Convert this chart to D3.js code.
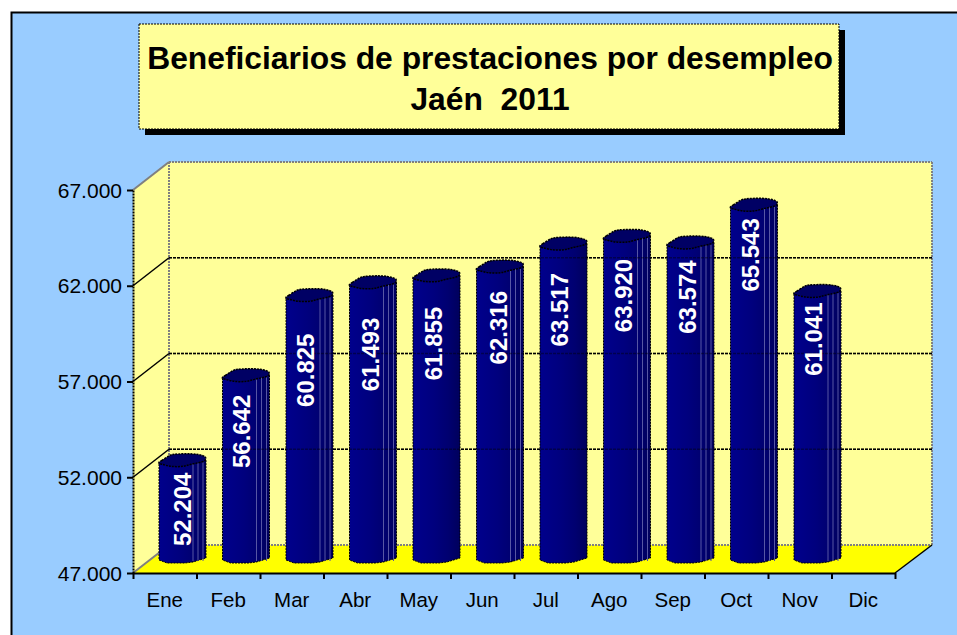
<!DOCTYPE html>
<html lang="es">
<head>
<meta charset="utf-8">
<title>Beneficiarios de prestaciones por desempleo</title>
<script src="https://cdn.jsdelivr.net/npm/d3@7"></script>
<style>
  html, body { margin: 0; padding: 0; background: #fff; overflow: hidden; }
  svg { display: block; }
  text { font-family: "Liberation Sans", Arial, sans-serif; fill: #000; }
</style>
</head>
<body>
<div id="chart"></div>
<script>
// data
const months = ['Ene', 'Feb', 'Mar', 'Abr', 'May', 'Jun', 'Jul', 'Ago', 'Sep', 'Oct', 'Nov', 'Dic'];
const beneficiaries = [52204, 56642, 60825, 61493, 61855, 62316, 63517, 63920, 63574, 65543, 61041, null];
const yTicks = [47000, 52000, 57000, 62000, 67000];
const titleLines = ['Beneficiarios de prestaciones por desempleo', 'Jaén  2011'];

// layout
const width = 957, height = 635;
const plot = { left: 133, right: 895, top: 190, bottom: 573 };
const depthX = 36, depthY = 28;   // offset of the back wall
const DOTS = '2 1';

// value labels were dragged by hand in the original, so each one has its own nudge
const labelDrop = [36, 43, 62, 59, 55, 48, 53, 46.5, 41.5, 37, 35];
const labelInset = [23.5, 19.5, 20, 21.5, 20.5, 22.5, 20, 20.5, 20.5, 20, 20];
const plainBars = ['May', 'Jul'];   // these two show no facet lines

const es = d3.formatLocale({ decimal: ',', thousands: '.', grouping: [3], currency: ['', ''] });
const fmt = es.format(',d');

const svg = d3.select('#chart').append('svg')
  .attr('width', width)
  .attr('height', height);

const x = d3.scaleBand().domain(months).range([plot.left, plot.right]);
const xEdges = d3.scaleLinear().domain([0, months.length]).range([plot.left, plot.right]);
const y = d3.scaleLinear().domain([47000, 67000]).range([plot.bottom, plot.top]);

const linePath = d3.line();

// shading across the cylinder
const grad = svg.append('defs').append('linearGradient')
  .attr('id', 'barFill')
  .attr('x1', 0).attr('x2', 1).attr('y1', 0).attr('y2', 0);
[[0, '#00008c'], [0.45, '#00007e'], [0.75, '#000070'], [1, '#00005c']].forEach(s => {
  grad.append('stop').attr('offset', s[0]).attr('stop-color', s[1]);
});

// frame, runs off the right and bottom of the window
svg.append('rect')
  .attr('x', 11.5).attr('y', 12.5)
  .attr('width', width).attr('height', height)
  .attr('fill', '#99ccff')
  .attr('stroke', '#000').attr('stroke-width', 2);

// title box
const box = { x: 139, y: 24, w: 700, h: 105, shadow: 6 };
svg.append('rect')
  .attr('x', box.x + box.shadow).attr('y', box.y + box.shadow)
  .attr('width', box.w).attr('height', box.h)
  .attr('fill', '#000');
svg.append('rect')
  .attr('x', box.x).attr('y', box.y)
  .attr('width', box.w).attr('height', box.h)
  .attr('fill', '#ffff99')
  .attr('stroke', '#000').attr('stroke-dasharray', DOTS);
svg.selectAll('text.title')
  .data(titleLines)
  .enter()
  .append('text')
  .attr('class', 'title')
  .attr('x', box.x + box.w / 2 + 1)
  .attr('y', (d, i) => 69 + i * 41)
  .attr('text-anchor', 'middle')
  .attr('font-size', 31.8)
  .attr('font-weight', 'bold')
  .style('white-space', 'pre')
  .text(d => d);

// walls and floor
const y0 = y(yTicks[0]), yTop = y(yTicks[yTicks.length - 1]);
svg.append('path')
  .attr('d', linePath([[plot.left, yTop], [plot.left + depthX, yTop - depthY], [plot.left + depthX, y0 - depthY], [plot.left, y0]]) + 'Z')
  .attr('fill', '#ffff99');
svg.append('rect')
  .attr('x', plot.left + depthX).attr('y', yTop - depthY)
  .attr('width', plot.right - plot.left + 1).attr('height', y0 - yTop)
  .attr('fill', '#ffff99');
svg.append('path')
  .attr('d', linePath([[plot.left, y0], [plot.left + depthX, y0 - depthY], [plot.right + depthX + 1, y0 - depthY], [plot.right, y0]]) + 'Z')
  .attr('fill', '#ffff00');

// grey back edges
const greyEdges = [
  [[plot.left, yTop], [plot.left + depthX, yTop - depthY]],
  [[plot.left + depthX, yTop - depthY], [plot.right + depthX + 1, yTop - depthY]],
  [[plot.left + depthX, yTop - depthY], [plot.left + depthX, y0 - depthY]],
  [[plot.right + depthX + 1, yTop - depthY], [plot.right + depthX + 1, y0 - depthY]],
  [[plot.left + depthX, y0 - depthY], [plot.right + depthX + 1, y0 - depthY]],
  [[plot.left, y0], [plot.left + depthX, y0 - depthY]]
];
svg.selectAll('path.edge')
  .data(greyEdges)
  .enter()
  .append('path')
  .attr('class', 'edge')
  .attr('d', linePath)
  .attr('fill', 'none')
  .attr('stroke', '#808080')
  .attr('stroke-width', 2)
  .attr('stroke-dasharray', (d, i) => (i === 0 || i === 5) ? null : DOTS);

// gridlines, solid across the side wall and dashed on the back wall
const inner = yTicks.slice(1, -1);
svg.selectAll('line.grid-side')
  .data(inner)
  .enter()
  .append('line')
  .attr('class', 'grid-side')
  .attr('x1', plot.left).attr('y1', d => y(d))
  .attr('x2', plot.left + depthX).attr('y2', d => y(d) - depthY)
  .attr('stroke', '#000').attr('stroke-width', 1.5);

function drawBackGrid(cls, opacity) {
  svg.selectAll('line.' + cls)
    .data(inner)
    .enter()
    .append('line')
    .attr('class', cls)
    .attr('x1', plot.left + depthX).attr('y1', d => y(d) - depthY)
    .attr('x2', plot.right + depthX + 1).attr('y2', d => y(d) - depthY)
    .attr('stroke', '#000').attr('stroke-width', 1.5)
    .attr('stroke-opacity', opacity)
    .attr('stroke-dasharray', '3 1');
}
drawBackGrid('grid-back', 1);

// cylinder outline, offsets from the bar's left edge
const barLeft = 26;
const topFace = [[0, -4], [3, -6], [11, -11], [15, -12], [38, -12], [46.5, -9], [46, -6], [32, -2], [24, 0], [12, 0], [3, -2], [0, -3]];
const bottomEdge = [[47, -5], [34, -1], [26, 0], [8, 0], [0, -3]];
const stripes = [34, 39, 44];
const topLift = 7, baseLift = 10;
const topPath = d3.line().curve(d3.curveCatmullRomClosed.alpha(0.5));

const barData = months
  .map((m, i) => ({ month: m, value: beneficiaries[i], index: i }))
  .filter(d => d.value !== null);

const bars = svg.selectAll('g.bar')
  .data(barData)
  .enter()
  .append('g')
  .attr('class', 'bar')
  .attr('transform', d => `translate(${x(d.month) + barLeft},0)`);

// body
bars.append('path')
  .attr('d', d => {
    const t = y(d.value) - topLift, b = y0 - baseLift;
    const pts = [[0, t - 3], [47, t - 7]].concat(bottomEdge.map(p => [p[0], p[1] + b]));
    return linePath(pts) + 'Z';
  })
  .attr('fill', 'url(#barFill)')
  .attr('stroke', '#000')
  .attr('stroke-dasharray', DOTS);

// facets on the right of the cylinder
stripes.forEach(sx => {
  bars.filter(d => !plainBars.includes(d.month))
    .append('line')
    .attr('x1', sx).attr('x2', sx)
    .attr('y1', d => y(d.value) - topLift - 4)
    .attr('y2', y0 - baseLift - 2)
    .attr('stroke', '#5656a4')
    .attr('stroke-width', 1);
});

// top face
bars.append('path')
  .attr('d', d => topPath(topFace.map(p => [p[0], p[1] + y(d.value) - topLift])))
  .attr('fill', '#000064')
  .attr('stroke', '#000')
  .attr('stroke-width', 1.5)
  .attr('stroke-dasharray', DOTS);

// the grid shows faintly through the bars
drawBackGrid('grid-over', 0.4);

// value labels
svg.selectAll('text.value')
  .data(barData)
  .enter()
  .append('text')
  .attr('class', 'value')
  .attr('transform', d => `translate(${x(d.month) + barLeft + labelInset[d.index]},${y(d.value) + labelDrop[d.index]}) rotate(-90)`)
  .attr('text-anchor', 'middle')
  .attr('dy', '0.35em')
  .attr('font-size', 24)
  .attr('font-weight', 'bold')
  .style('fill', '#fff')
  .text(d => fmt(d.value));

// axes
const yAxis = svg.append('g')
  .attr('transform', `translate(${plot.left},0)`)
  .call(d3.axisLeft(y).tickValues(yTicks).tickFormat(fmt).tickSize(6).tickPadding(5).tickSizeOuter(0));
yAxis.selectAll('text').attr('font-size', 21).attr('dy', '0.34em').style('fill', '#000');
yAxis.selectAll('line').attr('stroke', '#000').attr('stroke-width', 2);
yAxis.select('.domain').attr('stroke', '#000').attr('stroke-width', 2).attr('stroke-dasharray', DOTS);

const xTicks = svg.append('g')
  .attr('transform', `translate(0,${plot.bottom})`)
  .call(d3.axisBottom(xEdges).tickValues(d3.range(months.length + 1)).tickFormat('').tickSize(6).tickSizeOuter(0));
xTicks.selectAll('line').attr('stroke', '#000').attr('stroke-width', 2);
xTicks.select('.domain').attr('stroke', '#000').attr('stroke-width', 2);

const xLabels = svg.append('g')
  .attr('transform', `translate(0,${plot.bottom})`)
  .call(d3.axisBottom(x).tickSize(0).tickPadding(19));
xLabels.select('.domain').remove();
xLabels.selectAll('text').attr('font-size', 20.5).style('fill', '#000');

// right edge of the floor
svg.append('line')
  .attr('x1', plot.right).attr('y1', plot.bottom)
  .attr('x2', plot.right + depthX + 1).attr('y2', plot.bottom - depthY)
  .attr('stroke', '#000').attr('stroke-width', 1.5);
</script>
</body>
</html>
